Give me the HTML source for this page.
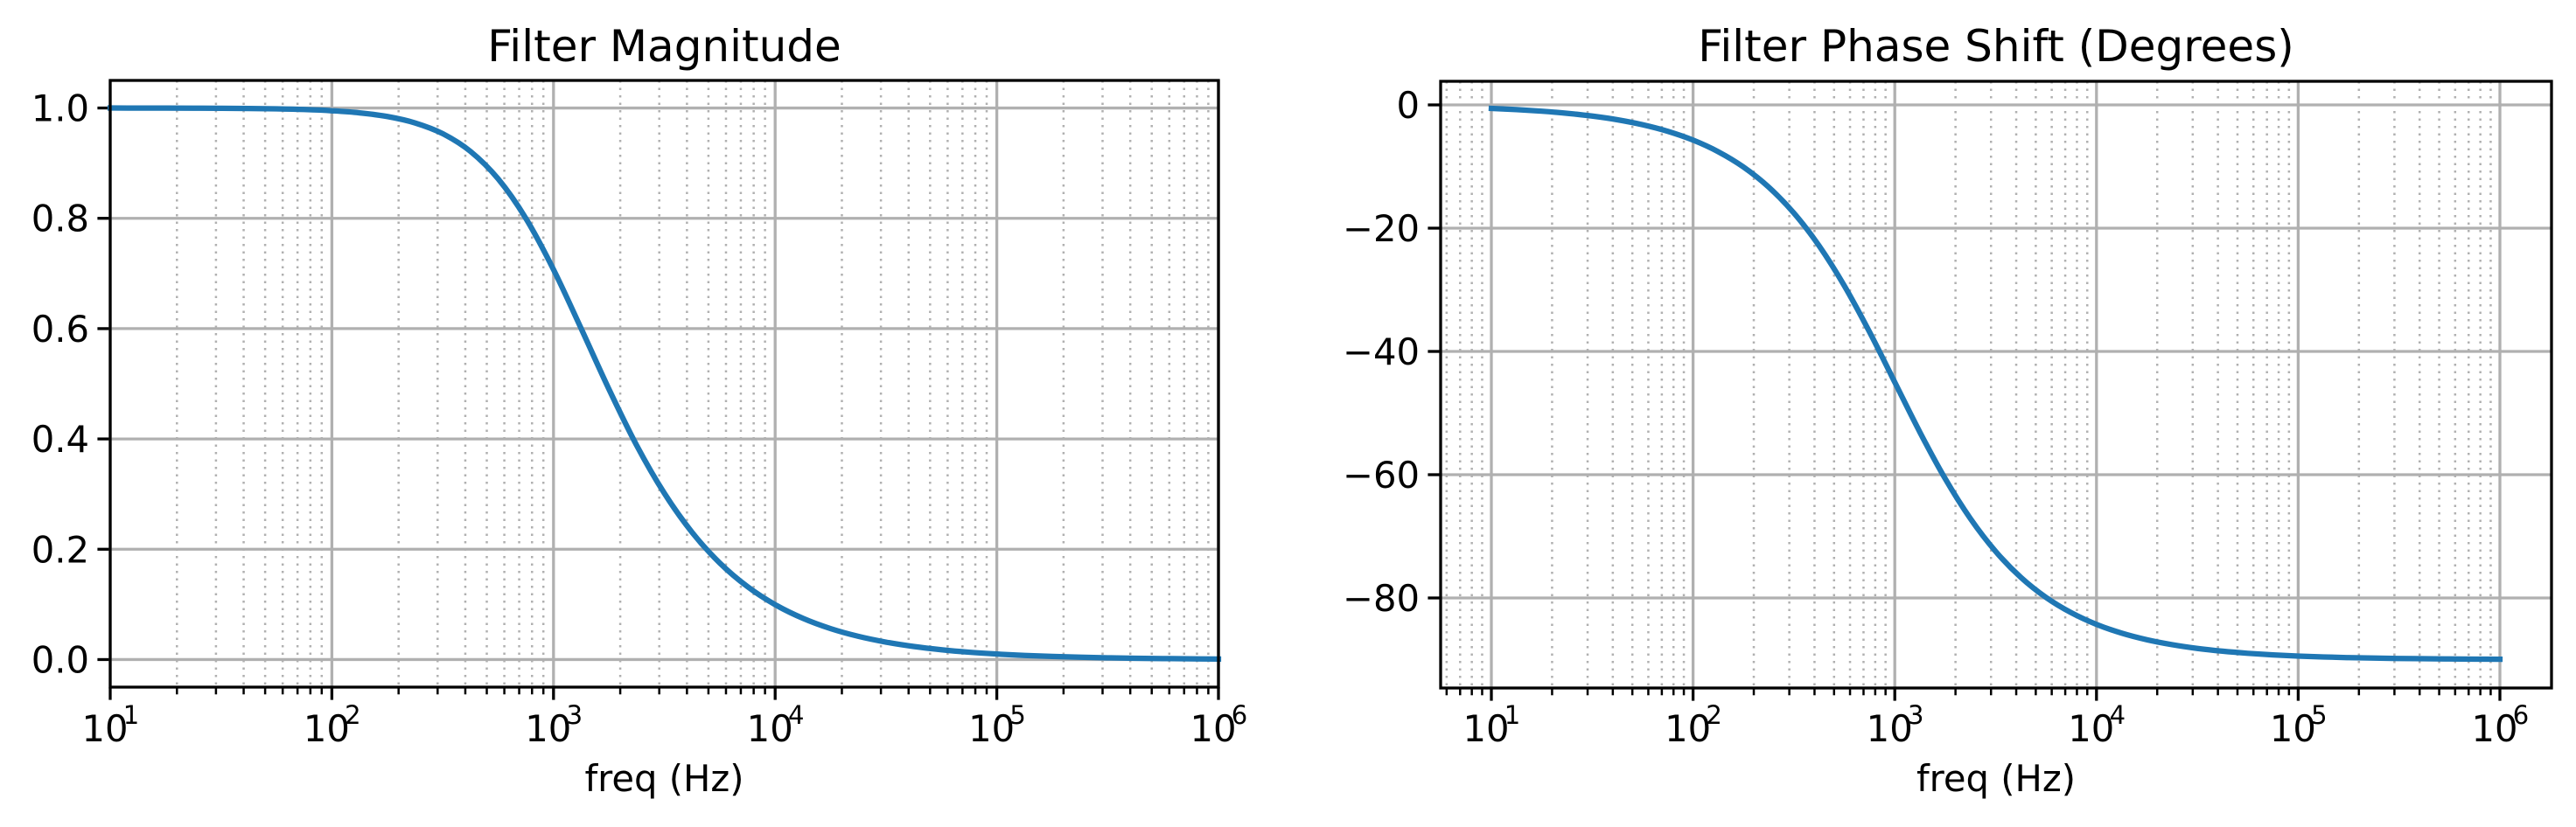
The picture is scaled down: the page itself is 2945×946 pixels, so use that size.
<!DOCTYPE html>
<html><head><meta charset="utf-8"><style>
body{margin:0;background:#fff;}
svg{display:block;font-family:"DejaVu Sans","Liberation Sans",sans-serif;}
</style></head><body>
<svg id="chart" width="2945" height="946" viewBox="0 0 2945 946"></svg>
<script>
// exponents (log10 of freq, Hz) of sampled points
const exps = [1,1.125,1.25,1.375,1.5,1.625,1.75,1.875,2,2.125,2.25,2.375,2.5,2.625,2.75,2.875,3,3.125,3.25,3.375,3.5,3.625,3.75,3.875,4,4.125,4.25,4.375,4.5,4.625,4.75,4.875,5,5.125,5.25,5.375,5.5,5.625,5.75,5.875,6];
const magnitude = [1.0,0.9999,0.9998,0.9997,0.9995,0.9991,0.9984,0.9972,0.995,0.9912,0.9846,0.973,0.9535,0.9214,0.8716,0.8,0.7071,0.5999,0.4903,0.3884,0.3015,0.2307,0.1751,0.1322,0.0995,0.0748,0.0561,0.0421,0.0316,0.0237,0.0178,0.0133,0.01,0.0075,0.0056,0.0042,0.0032,0.0024,0.0018,0.0013,0.001];
const phase = [-0.57,-0.76,-1.02,-1.36,-1.81,-2.41,-3.22,-4.29,-5.71,-7.6,-10.08,-13.34,-17.55,-22.87,-29.35,-36.86,-45,-53.14,-60.65,-67.13,-72.45,-76.66,-79.92,-82.4,-84.29,-85.71,-86.78,-87.58,-88.19,-88.64,-88.98,-89.24,-89.43,-89.57,-89.68,-89.76,-89.82,-89.86,-89.9,-89.92,-89.94];
const magTicks = [0,0.2,0.4,0.6,0.8,1.0];
const magTickLabels = ["0.0","0.2","0.4","0.6","0.8","1.0"];
const phaseTicks = [0,-20,-40,-60,-80];
const phaseTickLabels = ["0","\u221220","\u221240","\u221260","\u221280"];
const decades = [1,2,3,4,5,6];

const NS="http://www.w3.org/2000/svg";
const svg=document.getElementById('chart');
function mk(tag,attrs,parent){const e=document.createElementNS(NS,tag);for(const k in attrs)e.setAttribute(k,attrs[k]);(parent||svg).appendChild(e);return e;}

function smoothPath(P){
  let d='M'+P[0][0].toFixed(2)+','+P[0][1].toFixed(2);
  for(let i=0;i<P.length-1;i++){
    const p0=P[Math.max(0,i-1)],p1=P[i],p2=P[i+1],p3=P[Math.min(P.length-1,i+2)];
    const c1x=p1[0]+(p2[0]-p0[0])/6,c1y=p1[1]+(p2[1]-p0[1])/6;
    const c2x=p2[0]-(p3[0]-p1[0])/6,c2y=p2[1]-(p3[1]-p1[1])/6;
    d+=' C'+c1x.toFixed(2)+','+c1y.toFixed(2)+' '+c2x.toFixed(2)+','+c2y.toFixed(2)+' '+p2[0].toFixed(2)+','+p2[1].toFixed(2);
  }
  return d;
}

function panel(cfg){
  const g=mk('g',{});
  
  
  const {L,R,T,B,xmin,xmax,ymin,ymax}=cfg;
  const X=e=>L+(e-xmin)/(xmax-xmin)*(R-L);
  const Y=v=>B-(v-ymin)/(ymax-ymin)*(B-T);
  for(let d=0;d<=7;d++){
    for(let m=2;m<=9;m++){
      const e=d+Math.log10(m);
      if(e<=xmin||e>=xmax) continue;
      const x=X(e);
      const l=mk('line',{x1:x,x2:x,y1:T,y2:B,stroke:'#b0b0b0','stroke-width':2.5,'stroke-dasharray':'2.5 6'},g);
      
      
      mk('line',{x1:x,x2:x,y1:B,y2:B+8.3,stroke:'#000','stroke-width':2.5},g);
    }
  }
  cfg.yt.forEach((v,i)=>{
    const y=Y(v);
    const l=mk('line',{x1:L,x2:R,y1:y,y2:y,stroke:'#b0b0b0','stroke-width':3.3},g);
    
    
    mk('line',{x1:L-14.6,x2:L,y1:y,y2:y,stroke:'#000','stroke-width':3.3},g);
    const t=mk('text',{x:L-24,y:y+15,'text-anchor':'end','font-size':41.7,fill:'#000'},g);
    t.textContent=cfg.ytl[i];
    
    
  });
  decades.forEach(d=>{
    const x=X(d);
    const l=mk('line',{x1:x,x2:x,y1:T,y2:B,stroke:'#b0b0b0','stroke-width':3.3},g);
    
    
    mk('line',{x1:x,x2:x,y1:B,y2:B+14.6,stroke:'#000','stroke-width':3.3},g);
    const t=mk('text',{x:x-6,y:848,'text-anchor':'middle','font-size':41.7,fill:'#000'},g);
    t.textContent='10';
    
    
    const s=mk('text',{x:x+24,y:828,'text-anchor':'middle','font-size':29,fill:'#000'},g);
    s.textContent=String(d);
    
    
  });
  const P=exps.map((e,i)=>[X(e),Y(cfg.data[i])]);
  const p=mk('path',{d:smoothPath(P),fill:'none',stroke:'#1f77b4','stroke-width':6.25,'stroke-linejoin':'round','stroke-linecap':'square'},g);
  
  
  const r=mk('rect',{x:L,y:T,width:R-L,height:B-T,fill:'none',stroke:'#000','stroke-width':3.3},g);
  
  
  const ti=mk('text',{x:(L+R)/2,y:70,'text-anchor':'middle','font-size':50,fill:'#000'},g);
  ti.textContent=cfg.title;
  
  
  const xl=mk('text',{x:(L+R)/2,y:905,'text-anchor':'middle','font-size':41.7,fill:'#000'},g);
  xl.textContent='freq (Hz)';
  
  
}
panel({name:'magnitude-panel',lineName:'magnitude-line',title:'Filter Magnitude',L:126,R:1393,T:92,B:786,xmin:1,xmax:6,ymin:-0.05,ymax:1.05,yt:magTicks,ytl:magTickLabels,data:magnitude});
panel({name:'phase-panel',lineName:'phase-line',title:'Filter Phase Shift (Degrees)',L:1647,R:2917,T:93,B:787,xmin:1-(1705-1647)/230.6,xmax:6+(2917-2858)/230.6,ymin:-80-(787-684)/7.05,ymax:(120-93)/7.05,yt:phaseTicks,ytl:phaseTickLabels,data:phase});
</script>
</body></html>
